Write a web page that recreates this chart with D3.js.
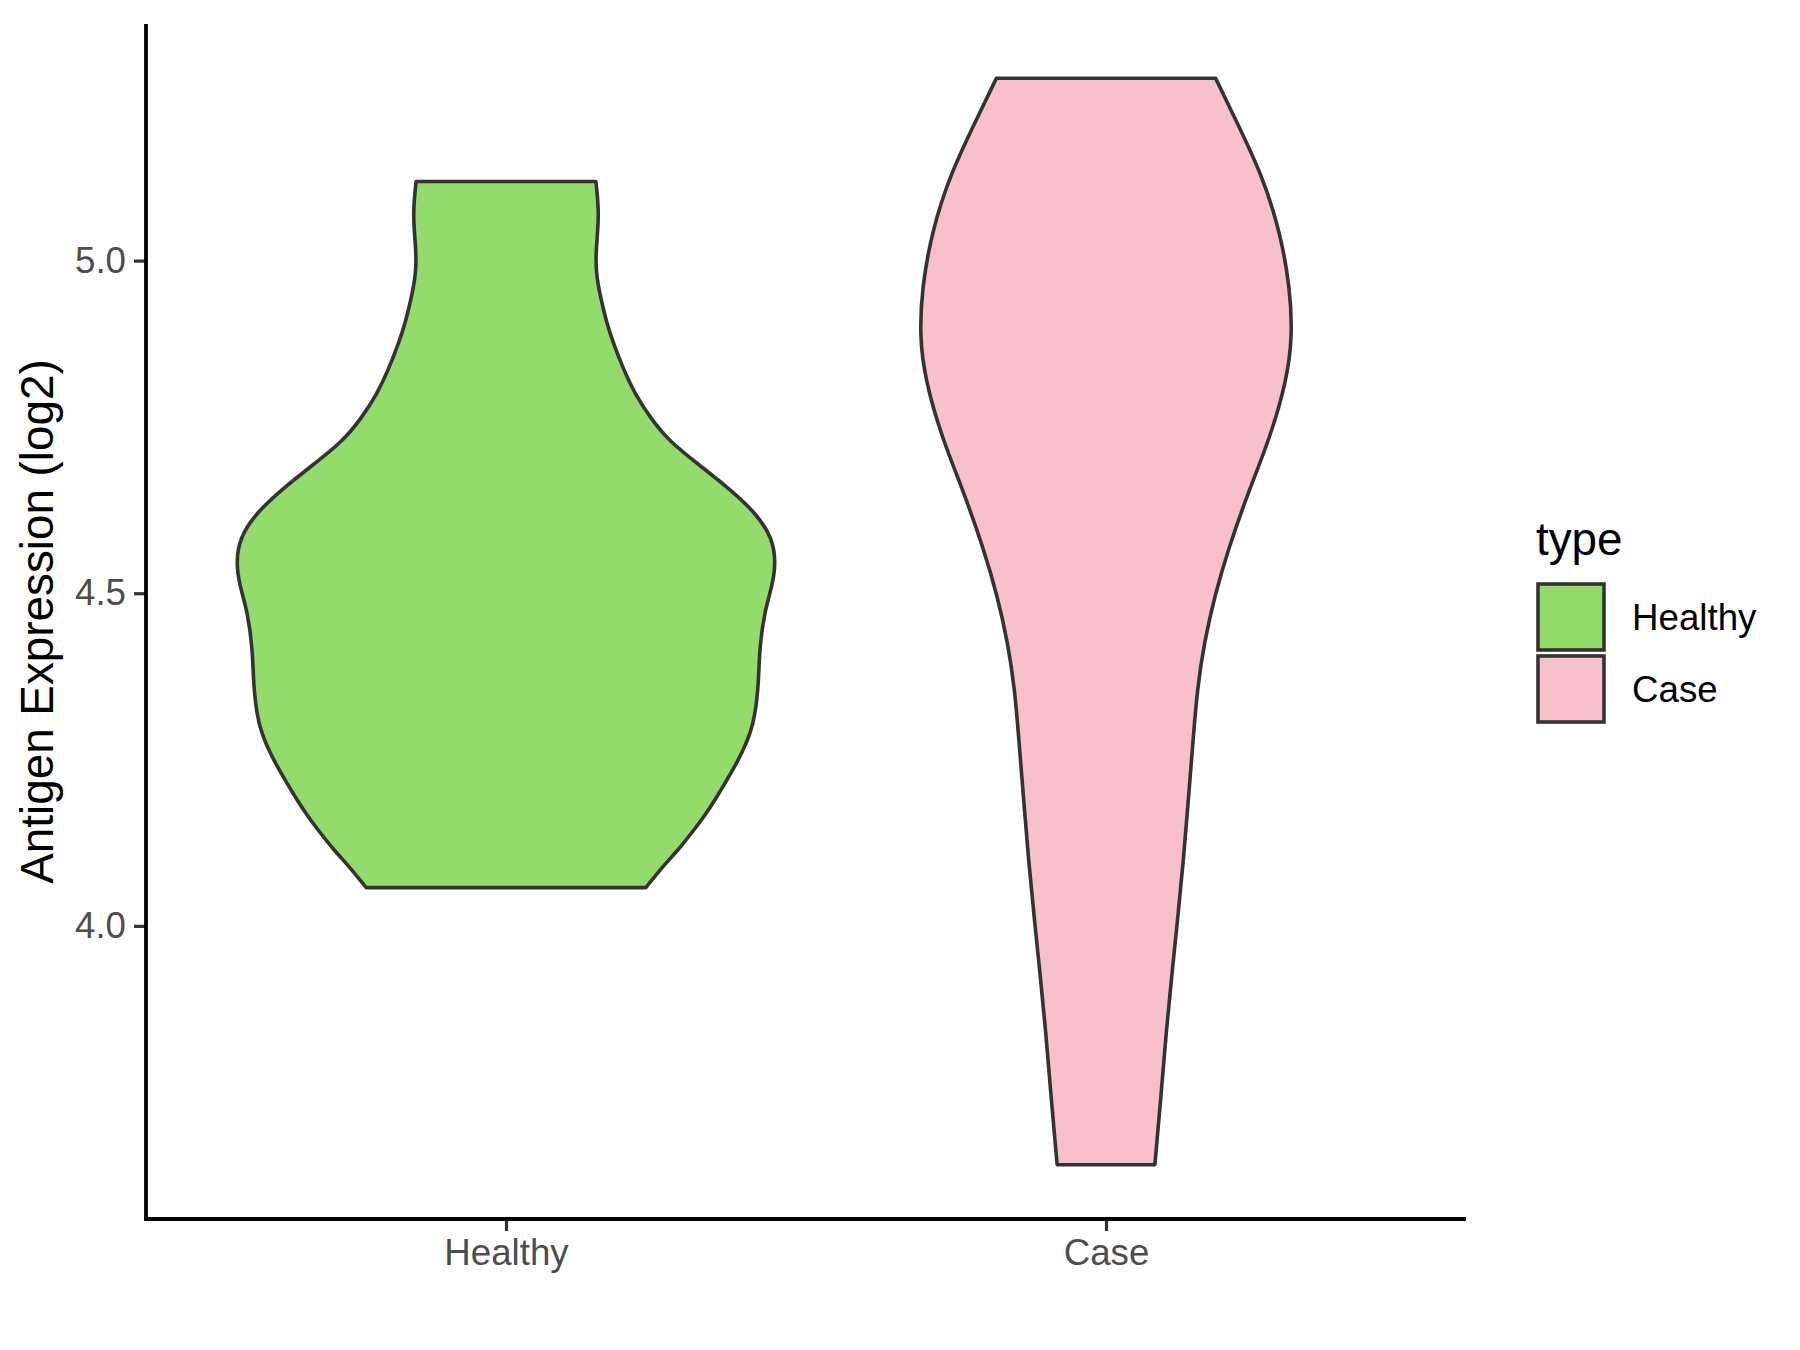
<!DOCTYPE html>
<html>
<head>
<meta charset="utf-8">
<script src="https://cdn.jsdelivr.net/npm/d3@7"></script>
<style>
  html, body { margin: 0; padding: 0; background: #ffffff; }
  svg { display: block; font-family: "Liberation Sans", Arial, sans-serif; }
</style>
</head>
<body>
<svg id="chart" width="1800" height="1350"></svg>
<script>
// ---- data ----
const categories = ["Healthy", "Case"];
const fillColors = ["#93DB6A", "#F7C0CB"];
const yTicks = [4.0, 4.5, 5.0];

// violin outlines: value (log2) and relative half-width (density, overall max = 1)
const healthyValues = [4.0575, 4.090, 4.115, 4.141, 4.165, 4.190, 4.215, 4.240, 4.265, 4.290, 4.315, 4.365, 4.415, 4.474, 4.510, 4.547, 4.583, 4.619, 4.656, 4.692, 4.728, 4.764, 4.800, 4.837, 4.873, 4.909, 4.945, 4.981, 5.018, 5.069, 5.119];
const healthyDensity = [0.518, 0.582, 0.640, 0.690, 0.735, 0.775, 0.812, 0.848, 0.880, 0.905, 0.922, 0.936, 0.938, 0.958, 0.986, 1.000, 0.986, 0.929, 0.831, 0.718, 0.605, 0.534, 0.477, 0.435, 0.400, 0.371, 0.350, 0.333, 0.333, 0.346, 0.333];

const caseValues = [3.641, 3.755, 3.841, 3.927, 4.013, 4.099, 4.185, 4.271, 4.357, 4.426, 4.495, 4.564, 4.650, 4.736, 4.822, 4.885, 4.959, 5.045, 5.131, 5.217, 5.274];
const caseDensity = [0.181, 0.206, 0.223, 0.244, 0.266, 0.287, 0.304, 0.321, 0.338, 0.364, 0.402, 0.451, 0.525, 0.610, 0.670, 0.690, 0.682, 0.644, 0.576, 0.474, 0.406];

const groups = [
  { name: categories[0], values: healthyValues, density: healthyDensity, fill: fillColors[0] },
  { name: categories[1], values: caseValues, density: caseDensity, fill: fillColors[1] }
];

// ---- layout ----
const svg = d3.select("#chart");
const panel = { left: 146, right: 1466, top: 24, bottom: 1219 };

const x = d3.scalePoint().domain(categories).range([panel.left, panel.right]).padding(0.6);

const allVals = healthyValues.concat(caseValues);
const ext = d3.extent(allVals);
const pad = (ext[1] - ext[0]) * 0.05;
const y = d3.scaleLinear().domain([ext[0] - pad, ext[1] + pad]).range([panel.bottom, panel.top]);

const maxHalf = x.step() * 0.45;
const w = d3.scaleLinear().domain([0, 1]).range([0, maxHalf]);

// ---- violins ----
groups.forEach(g => {
  const pts = g.values.map((v, i) => ({ v: v, d: g.density[i] }));
  const cx = x(g.name);
  const area = d3.area()
    .y(p => y(p.v))
    .x0(p => cx - w(p.d))
    .x1(p => cx + w(p.d))
    .curve(d3.curveBasis);
  svg.append("path")
    .attr("d", area(pts))
    .attr("fill", g.fill)
    .attr("stroke", "#333333")
    .attr("stroke-width", 3.6)
    .attr("stroke-linejoin", "round");
});

// ---- axes ----
const yAxis = d3.axisLeft(y).tickValues(yTicks).tickFormat(d3.format(".1f")).tickSize(12).tickPadding(8);
const gy = svg.append("g").attr("transform", `translate(${panel.left},0)`).call(yAxis);
gy.select(".domain").remove();
gy.selectAll(".tick line").attr("stroke", "#333333").attr("stroke-width", 3.2);
gy.selectAll(".tick text").attr("fill", "#4D4D4D").attr("font-size", 36.7)
  .attr("font-family", "Liberation Sans, Arial, sans-serif");

const xAxis = d3.axisBottom(x).tickSize(12).tickPadding(8);
const gx = svg.append("g").attr("transform", `translate(0,${panel.bottom})`).call(xAxis);
gx.select(".domain").remove();
gx.selectAll(".tick line").attr("stroke", "#333333").attr("stroke-width", 3.2);
gx.selectAll(".tick text").attr("fill", "#4D4D4D").attr("font-size", 36.7)
  .attr("font-family", "Liberation Sans, Arial, sans-serif");

// axis lines
svg.append("line").attr("x1", panel.left).attr("x2", panel.left)
  .attr("y1", panel.top).attr("y2", panel.bottom + 1.9)
  .attr("stroke", "#000").attr("stroke-width", 3.8);
svg.append("line").attr("x1", panel.left - 1.9).attr("x2", panel.right)
  .attr("y1", panel.bottom).attr("y2", panel.bottom)
  .attr("stroke", "#000").attr("stroke-width", 3.8);

// y title
svg.append("text")
  .attr("transform", `translate(53,${(panel.top + panel.bottom) / 2}) rotate(-90)`)
  .attr("text-anchor", "middle")
  .attr("font-size", 45.8)
  .attr("fill", "#000")
  .text("Antigen Expression (log2)");

// ---- legend ----
const leg = svg.append("g");
leg.append("text").attr("x", 1536).attr("y", 555).attr("font-size", 45.8).attr("fill", "#000").text("type");
groups.forEach((g, i) => {
  const top = 584 + i * 72;
  leg.append("rect").attr("x", 1538).attr("y", top).attr("width", 66).attr("height", 66)
    .attr("fill", g.fill).attr("stroke", "#333333").attr("stroke-width", 3.6);
  leg.append("text").attr("x", 1632).attr("y", top + 33).attr("dy", "0.35em")
    .attr("font-size", 36.7).attr("fill", "#000").text(g.name);
});
</script>
</body>
</html>
